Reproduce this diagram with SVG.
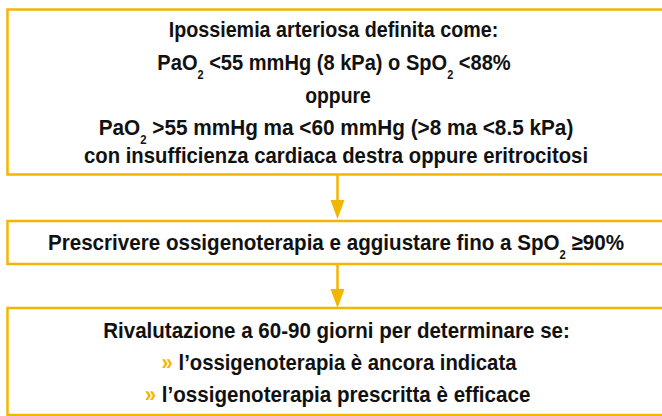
<svg xmlns="http://www.w3.org/2000/svg" width="662" height="416" viewBox="0 0 662 416">
<defs>
<style>
.box{fill:#fff;stroke:#F2B600;stroke-width:2.5}
.t{font-family:"Liberation Sans Narrow","Liberation Sans",Arial,sans-serif;font-weight:bold;font-size:22px;fill:#111;text-anchor:middle}
.sub{font-size:12px}
.ch{fill:#F2B600}
.conn{stroke:#F2B600;stroke-width:2.5;fill:none}
</style>
</defs>
<rect width="662" height="416" fill="#fff"/>
<g id="connectors">
<line class="conn" x1="337.5" y1="175" x2="337.5" y2="201"/>
<path d="M330.5,200 L344.5,200 L337.5,219 Z" fill="#F2B600"/>
<line class="conn" x1="337.5" y1="265" x2="337.5" y2="290"/>
<path d="M330.5,289 L344.5,289 L337.5,308 Z" fill="#F2B600"/>
</g>
<g id="node1">
<rect class="box" x="7.5" y="9.5" width="670" height="165"/>
<text class="t" transform="translate(333.5,37) scale(0.896,1)">Ipossiemia arteriosa definita come:</text>
<text class="t" transform="translate(334,70) scale(0.912,1)">PaO<tspan class="sub" dy="9">2</tspan><tspan dy="-9"> &lt;55 mmHg (8 kPa) o SpO</tspan><tspan class="sub" dy="9">2</tspan><tspan dy="-9"> &lt;88%</tspan></text>
<text class="t" transform="translate(338,103) scale(0.88,1)">oppure</text>
<text class="t" transform="translate(336,135) scale(0.944,1)">PaO<tspan class="sub" dy="9">2</tspan><tspan dy="-9"> &gt;55 mmHg ma &lt;60 mmHg (&gt;8 ma &lt;8.5 kPa)</tspan></text>
<text class="t" transform="translate(336,163) scale(0.923,1)">con insufficienza cardiaca destra oppure eritrocitosi</text>
</g>
<g id="node2">
<rect class="box" x="7.5" y="221" width="670" height="43"/>
<text class="t" transform="translate(336,250) scale(0.937,1)">Prescrivere ossigenoterapia e aggiustare fino a SpO<tspan class="sub" dy="9">2</tspan><tspan dy="-9"> ≥90%</tspan></text>
</g>
<g id="node3">
<rect class="box" x="7.5" y="308" width="670" height="107"/>
<text class="t" transform="translate(336.5,338) scale(0.934,1)">Rivalutazione a 60-90 giorni per determinare se:</text>
<text class="t" transform="translate(339,370) scale(0.922,1)"><tspan class="ch">»</tspan> l’ossigenoterapia è ancora indicata</text>
<text class="t" transform="translate(337.5,402) scale(0.937,1)"><tspan class="ch">»</tspan> l’ossigenoterapia prescritta è efficace</text>
</g>
</svg>
